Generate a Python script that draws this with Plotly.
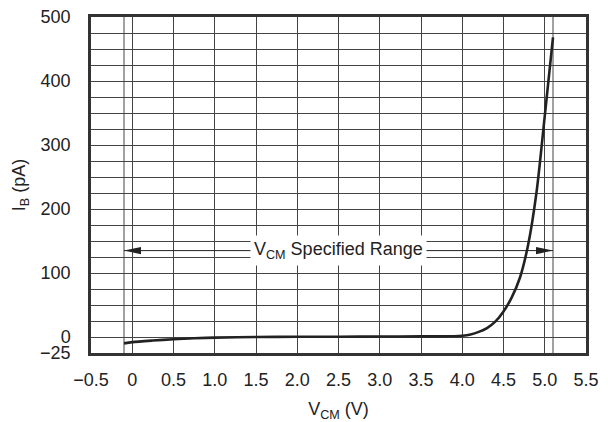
import plotly.graph_objects as go

# Data
vcm = [-0.1, 0.0, 0.25, 0.5, 0.75, 1.0, 1.5, 2.0, 2.5, 3.0, 3.5, 3.9, 4.0, 4.1, 4.2, 4.3,
       4.4, 4.5, 4.6, 4.7, 4.8, 4.9, 5.0, 5.1]
ib = [-10, -8, -5.5, -3.6, -2.0, -1.0, 0.0, 0.3, 0.5, 0.7, 0.9, 1.2, 2.0, 4.0, 8.0, 14,
      24, 40, 62, 93, 145, 226, 345, 468]

x_tick_vals = [-0.5, 0, 0.5, 1.0, 1.5, 2.0, 2.5, 3.0, 3.5, 4.0, 4.5, 5.0, 5.5]
x_tick_text = ["−0.5", "0", "0.5", "1.0", "1.5", "2.0", "2.5", "3.0", "3.5", "4.0", "4.5", "5.0", "5.5"]
y_grid_vals = list(range(-25, 501, 25))
y_label_map = {-25: "−25", 0: "0", 100: "100", 200: "200", 300: "300", 400: "400", 500: "500"}
y_tick_text = [y_label_map.get(v, "") for v in y_grid_vals]

range_lo = -0.1
range_hi = 5.1
range_arrow_y = 135
range_label = "V<sub>CM</sub> Specified Range"
range_label_x = 2.5

FONT = "Liberation Sans, Arial, sans-serif"
GRID = "#444444"
INK = "#222222"

fig = go.Figure()
fig.add_trace(go.Scatter(
    x=vcm, y=ib, mode="lines",
    line=dict(color=INK, width=2.6, shape="spline", smoothing=0.8),
    showlegend=False, hoverinfo="skip",
))

shapes = []
# extra vertical lines marking the specified range
for xv in (range_lo, range_hi):
    shapes.append(dict(type="line", xref="x", yref="paper", x0=xv, x1=xv, y0=0, y1=1,
                       line=dict(color=GRID, width=1), layer="below"))
# arrow shaft
shapes.append(dict(type="line", xref="x", yref="y", x0=range_lo, x1=range_hi,
                   y0=range_arrow_y, y1=range_arrow_y, line=dict(color=INK, width=1)))
# arrow heads (pixel-sized, anchored at the range ends)
shapes.append(dict(type="path", xref="x", yref="y", xsizemode="pixel", ysizemode="pixel",
                   xanchor=range_lo, yanchor=range_arrow_y,
                   path="M0,0 L17,3.6 L17,-3.6 Z", fillcolor=INK, line=dict(width=0)))
shapes.append(dict(type="path", xref="x", yref="y", xsizemode="pixel", ysizemode="pixel",
                   xanchor=range_hi, yanchor=range_arrow_y,
                   path="M0,0 L-17,3.6 L-17,-3.6 Z", fillcolor=INK, line=dict(width=0)))

fig.update_layout(
    width=608, height=422,
    margin=dict(l=83, r=30, t=9, b=77),
    paper_bgcolor="white", plot_bgcolor="white",
    font=dict(family=FONT, size=18, color=INK),
    shapes=shapes,
    annotations=[dict(
        x=range_label_x, y=range_arrow_y, xref="x", yref="y", text=range_label,
        showarrow=False, bgcolor="white", borderpad=3,
        font=dict(family=FONT, size=18, color=INK),
    )],
)

fig.update_xaxes(
    range=[-0.5, 5.5], tickvals=x_tick_vals, ticktext=x_tick_text,
    showgrid=True, gridcolor=GRID, gridwidth=1, zeroline=False,
    showline=True, linecolor="#333333", linewidth=2.5, mirror=True,
    ticks="", ticklabelstandoff=9, automargin=False, ticklabeloverflow="allow",
    title=dict(text="V<sub>CM</sub> (V)", standoff=14, font=dict(size=18)),
)
fig.update_yaxes(
    range=[-25, 500], tickvals=y_grid_vals, ticktext=y_tick_text,
    showgrid=True, gridcolor=GRID, gridwidth=1, zeroline=False,
    showline=True, linecolor="#333333", linewidth=2.5, mirror=True,
    ticks="", ticklabelstandoff=14, automargin=False, ticklabeloverflow="allow",
    title=dict(text="I<sub>B</sub> (pA)", standoff=10, font=dict(size=18)),
)

fig.write_html("out.html")
